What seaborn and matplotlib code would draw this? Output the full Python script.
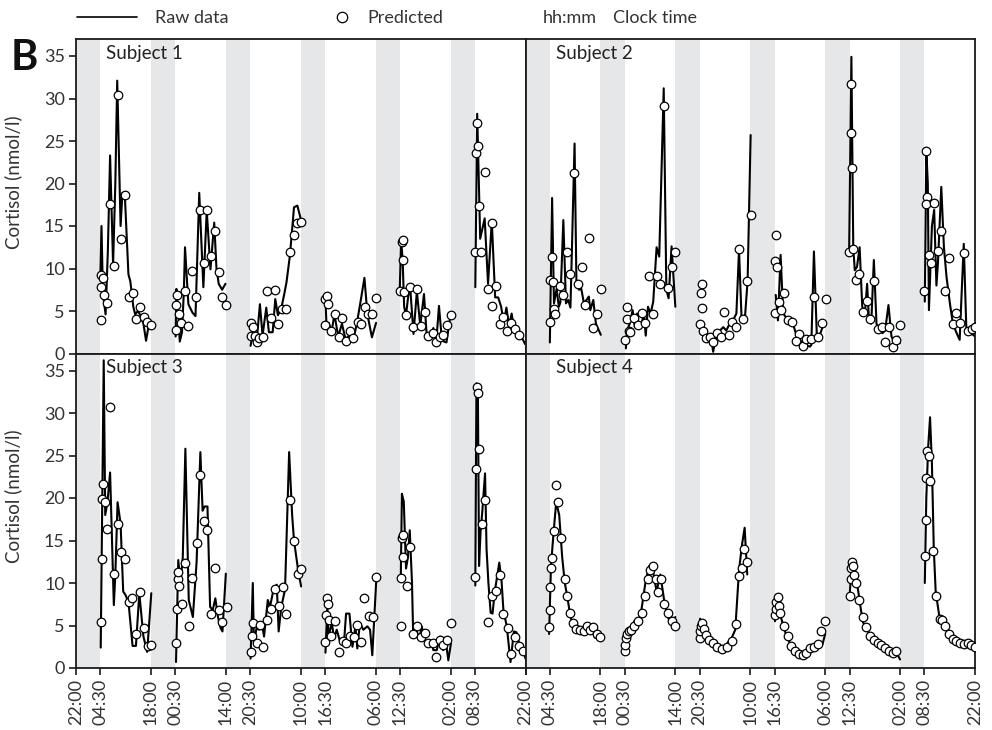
import numpy as np
import pandas as pd
import matplotlib
matplotlib.use("Agg")
import matplotlib.pyplot as plt
from matplotlib.lines import Line2D
import seaborn as sns

sns.set_style("ticks")
plt.rcParams["font.family"] = ["Lato", "DejaVu Sans"]

# ---------------- axis definitions ----------------
tick_pos = [0, 6.5, 20, 26.5, 40, 46.5, 60, 66.5, 80, 86.5, 100, 106.5, 120]
tick_lab = ["22:00", "04:30", "18:00", "00:30", "14:00", "20:30", "10:00",
            "16:30", "06:00", "12:30", "02:00", "08:30", "22:00"]
y_ticks = [0, 5, 10, 15, 20, 25, 30, 35]
sleep_on = [0, 20, 40, 60, 80, 100]
sleep_off = [6.5, 26.5, 46.5, 66.5, 86.5, 106.5]
subjects = ["Subject 1", "Subject 2", "Subject 3", "Subject 4"]

# ---------------- Subject 1 ----------------
s1_raw_t = [6.5, 6.8, 7.2, 7.9, 8.5, 9.1, 9.9, 10.5, 11.0, 11.9, 12.4, 13.1, 14.0, 14.5, 15.3, 15.8, 16.5, 17.2, 18.0, 18.7, 19.6,
            26.6, 26.8, 27.2, 27.7, 28.3, 28.8, 29.1, 30.0, 31.1, 31.9, 32.9, 34.0, 34.9, 35.9, 36.9, 37.5, 38.1, 39.0, 39.9,
            46.6, 47.2, 48.2, 49.1, 49.8, 50.8, 51.5, 52.5, 53.2, 53.9, 54.8, 55.6, 56.2, 57.1, 58.2, 59.1, 59.9,
            66.6, 66.9, 67.5, 68.2, 69.0, 70.0, 71.0, 72.0, 73.0, 74.0, 75.0, 76.0, 77.0, 77.8, 79.0, 80.1,
            86.4, 86.8, 87.2, 87.6, 88.1, 88.7, 89.2, 90.1, 91.0, 91.9, 92.9, 93.6, 94.7, 95.4, 96.1, 96.9, 97.7, 98.9, 99.8,
            106.6, 107.1, 107.5, 107.9, 109.1, 110.0, 111.0, 111.9, 112.7, 113.5, 114.2, 114.9, 115.6, 116.3, 117.1, 117.9, 119.0, 119.9]
s1_raw_v = [9.0, 15.0, 7.0, 4.6, 12.0, 23.3, 10.5, 20.0, 32.1, 15.0, 18.9, 18.0, 9.3, 8.5, 5.5, 4.6, 5.0, 4.5, 3.5, 1.5, 3.8,
            2.0, 7.6, 5.5, 1.4, 2.5, 7.4, 12.5, 5.8, 4.8, 4.4, 18.9, 7.8, 16.8, 9.9, 15.4, 10.0, 8.2, 7.5, 8.2,
            0.9, 2.3, 1.3, 5.8, 2.1, 5.4, 2.5, 2.5, 6.4, 4.5, 5.3, 7.0, 8.4, 11.5, 17.2, 17.4, 16.0,
            6.4, 3.0, 3.6, 2.5, 4.6, 2.0, 3.5, 1.6, 2.2, 1.5, 3.6, 6.2, 8.9, 4.6, 1.9, 3.6,
            7.0, 13.4, 11.0, 5.5, 4.5, 6.8, 7.9, 2.3, 7.3, 3.3, 7.0, 2.3, 2.1, 3.0, 0.9, 5.6, 1.5, 1.3, 4.0,
            7.8, 28.2, 21.0, 13.5, 15.9, 8.2, 15.6, 6.6, 6.6, 5.5, 3.6, 5.4, 3.3, 4.7, 2.6, 3.0, 1.9, 1.1]
s1_pred_t = [6.6, 6.8, 7.2, 6.8, 7.6, 8.2, 9.1, 10.1, 11.1, 12.1, 13.2, 14.1, 15.1, 16.1, 17.1, 18.1, 19.0, 20.0,
             26.6, 26.8, 27.0, 27.5, 28.1, 29.0, 30.0, 31.0, 32.0, 33.0, 34.1, 35.1, 36.0, 37.0, 38.1, 39.1, 40.0,
             46.6, 47.2, 46.6, 47.8, 48.2, 48.9, 50.0, 51.1, 52.0, 53.0, 54.0, 55.1, 56.0, 57.0, 58.2, 59.1, 60.0,
             66.6, 67.1, 67.4, 66.6, 68.1, 69.1, 70.2, 71.1, 72.2, 73.1, 74.0, 75.2, 76.1, 77.1, 78.0, 79.0, 80.1,
             86.5, 87.0, 87.2, 87.4, 87.6, 88.1, 89.2, 90.1, 91.1, 92.1, 93.1, 94.1, 95.2, 96.1, 97.1, 98.0, 99.0, 100.1,
             106.5, 106.8, 107.1, 107.4, 107.5, 108.1, 109.1, 110.1, 111.0, 111.1, 112.1, 113.1, 113.9, 115.0, 116.1, 117.2, 118.2]
s1_pred_v = [3.9, 9.2, 8.9, 7.8, 6.9, 5.9, 17.6, 10.3, 30.4, 13.5, 18.7, 6.7, 7.1, 4.1, 5.5, 4.3, 3.7, 3.3,
             2.8, 5.7, 6.9, 4.7, 3.6, 7.4, 3.2, 9.7, 6.7, 16.9, 10.7, 16.9, 11.5, 14.4, 9.6, 6.7, 5.7,
             3.6, 3.1, 2.1, 2.1, 1.3, 1.8, 1.9, 7.4, 4.2, 7.5, 3.5, 5.2, 5.2, 11.9, 14.0, 15.3, 15.5,
             6.4, 6.8, 5.8, 3.4, 2.6, 4.7, 1.9, 4.2, 1.5, 2.6, 1.8, 3.7, 3.5, 5.5, 4.6, 4.6, 6.5,
             7.3, 13.1, 13.4, 11.0, 7.2, 4.5, 7.8, 3.1, 7.6, 3.2, 4.9, 2.1, 2.4, 1.3, 1.9, 2.2, 3.3, 4.5,
             12.0, 23.6, 27.1, 24.4, 17.3, 12.0, 21.4, 7.6, 15.3, 5.6, 8.0, 3.5, 4.3, 2.7, 3.6, 2.9, 2.2]

# ---------------- Subject 2 ----------------
s2_raw_t = [6.5, 7.1, 7.6, 8.3, 8.9, 9.3, 10.1, 10.8, 11.4, 12.0, 13.1, 13.6, 14.3, 14.9, 15.6, 16.3, 16.9, 17.3, 18.1, 18.8, 20.1,
            26.8, 27.1, 27.8, 28.6, 29.2, 29.8, 30.3, 31.0, 31.6, 32.1, 32.7, 33.4, 34.1, 35.0, 35.7, 36.9, 37.6, 38.2, 39.0, 40.0,
            46.5, 47.4, 48.3, 49.4, 50.1, 51.0, 51.9, 52.8, 53.6, 54.5, 55.4, 56.3, 57.0, 57.7, 58.6, 59.3, 60.1,
            66.8, 67.4, 68.1, 68.8, 69.5, 70.1, 70.7, 71.4, 72.3, 73.2, 74.1, 75.0, 75.9, 76.3, 77.0, 77.8, 78.6, 79.3, 79.9,
            86.4, 87.0, 87.5, 87.9, 88.5, 89.2, 89.9, 90.6, 91.2, 91.7, 92.3, 93.0, 93.7, 94.4, 95.3, 96.0, 96.9, 97.7, 98.6, 99.5, 99.9,
            106.6, 107.0, 107.4, 107.7, 108.5, 109.1, 109.7, 110.1, 111.0, 111.7, 112.4, 113.3, 114.1, 115.0, 115.9, 117.0, 117.7, 118.6, 119.5, 120.0]
s2_raw_v = [1.3, 18.3, 5.9, 7.6, 5.5, 6.0, 15.7, 5.9, 6.3, 5.4, 24.7, 8.2, 7.5, 7.6, 5.9, 6.3, 6.7, 5.1, 6.3, 3.5, 2.2,
            0.6, 2.7, 3.5, 5.1, 3.1, 4.7, 2.9, 3.5, 4.7, 2.1, 5.5, 4.7, 6.1, 12.5, 11.4, 31.2, 7.5, 6.5, 12.6, 5.5,
            3.5, 2.7, 2.0, 2.3, 0.2, 2.2, 2.7, 3.1, 2.7, 3.5, 3.9, 4.7, 12.2, 3.9, 4.3, 8.6, 25.7,
            6.9, 3.9, 11.6, 4.7, 4.3, 3.9, 4.1, 3.5, 2.2, 1.6, 1.2, 1.0, 0.8, 1.0, 12.0, 1.8, 2.2, 3.1, 3.2,
            12.0, 34.9, 12.5, 9.8, 10.2, 12.5, 5.5, 4.7, 8.2, 3.9, 3.5, 11.0, 3.5, 2.7, 2.4, 2.7, 5.7, 2.0, 1.2, 2.0, 1.2,
            6.1, 23.9, 20.0, 5.1, 15.0, 16.9, 8.0, 10.6, 19.6, 12.5, 9.0, 5.9, 3.5, 2.5, 1.6, 12.9, 2.7, 2.4, 2.2, 2.0]
s2_pred_t = [6.5, 7.1, 6.5, 7.3, 7.6, 8.0, 9.1, 10.1, 11.0, 12.0, 13.0, 14.1, 15.0, 16.0, 17.0, 18.0, 19.0, 20.1,
             26.5, 27.0, 27.1, 27.6, 28.0, 29.0, 30.1, 31.0, 32.0, 33.0, 34.1, 35.1, 36.0, 37.1, 38.1, 39.1, 40.0,
             47.0, 46.8, 47.2, 46.5, 47.5, 48.1, 49.2, 50.1, 51.2, 52.1, 53.1, 54.2, 55.1, 56.1, 57.1, 58.1, 59.0, 60.1,
             67.0, 66.7, 67.2, 69.0, 67.6, 66.6, 68.1, 70.1, 71.1, 73.1, 72.1, 74.1, 75.0, 76.1, 77.0, 78.1, 79.1, 80.1,
             87.0, 86.8, 87.2, 86.4, 87.5, 88.1, 89.1, 90.0, 91.1, 92.1, 93.1, 94.1, 95.1, 96.1, 97.1, 98.1, 99.0, 100.1,
             107.0, 107.2, 106.8, 109.1, 106.5, 107.6, 108.2, 110.2, 111.0, 112.0, 113.1, 114.1, 115.0, 116.1, 117.1, 118.1, 119.1, 120.0]
s2_pred_v = [3.7, 11.3, 8.6, 8.4, 5.2, 4.6, 8.0, 6.9, 11.9, 9.4, 21.2, 8.2, 10.2, 5.7, 13.6, 3.0, 4.7, 7.6,
             1.6, 5.5, 4.1, 2.7, 2.5, 4.2, 3.3, 4.8, 3.6, 9.1, 4.7, 9.1, 8.2, 29.1, 7.7, 10.2, 12.0,
             8.2, 7.1, 5.3, 3.5, 2.7, 1.8, 1.9, 1.3, 2.4, 2.0, 4.9, 2.2, 3.7, 3.1, 12.3, 4.1, 8.5, 16.3,
             13.9, 10.9, 10.2, 7.1, 6.1, 4.8, 5.1, 4.0, 3.7, 2.3, 1.5, 0.9, 1.7, 1.7, 6.6, 2.0, 3.6, 6.4,
             31.7, 26.0, 21.8, 12.0, 12.3, 8.7, 9.3, 4.9, 6.2, 4.1, 8.5, 2.9, 3.1, 1.4, 3.1, 0.8, 1.6, 3.3,
             23.8, 18.4, 17.6, 17.7, 7.3, 11.6, 10.6, 12.1, 14.4, 7.3, 11.2, 3.5, 4.8, 3.6, 11.8, 2.7, 2.9, 3.1]

# ---------------- Subject 3 ----------------
s3_raw_t = [6.6, 7.4, 7.8, 8.4, 9.1, 10.1, 10.5, 11.1, 11.9, 12.6, 13.2, 14.0, 15.1, 16.0, 16.9, 18.0, 19.0, 20.1,
            26.7, 27.3, 27.9, 28.5, 29.2, 30.1, 31.2, 32.2, 33.2, 33.8, 34.3, 35.1, 35.8, 36.5, 37.2, 37.9, 38.6, 39.1, 40.0,
            46.6, 47.2, 47.5, 48.2, 48.9, 49.6, 50.2, 51.2, 51.8, 52.8, 53.6, 54.1, 54.8, 55.8, 56.9, 57.7, 58.2, 59.3, 60.1,
            66.6, 67.1, 67.4, 68.3, 68.9, 69.6, 70.5, 71.5, 72.1, 73.0, 73.8, 74.6, 75.1, 75.8, 76.7, 77.8, 78.5, 79.1, 80.2,
            86.7, 87.0, 87.5, 88.1, 88.6, 89.1, 89.7, 90.0, 90.9, 91.6, 92.3, 93.1, 93.8, 94.7, 95.4, 96.3, 97.2, 98.0, 98.8, 99.4, 100.1,
            106.6, 106.9, 107.3, 107.6, 108.0, 108.5, 109.2, 109.6, 110.1, 110.7, 111.2, 111.8, 113.0, 113.6, 114.1, 115.0, 116.0, 116.9, 117.6, 118.5, 119.4, 120.0]
s3_raw_v = [2.4, 36.2, 18.0, 19.5, 23.0, 7.4, 11.0, 19.5, 17.0, 9.0, 8.6, 7.8, 2.6, 2.6, 8.8, 3.7, 1.9, 8.8,
            0.7, 12.7, 10.0, 13.0, 25.8, 8.0, 6.0, 12.5, 25.4, 18.5, 19.0, 19.0, 7.2, 6.8, 8.2, 6.0, 4.7, 4.3, 11.1,
            1.1, 10.0, 2.9, 4.7, 4.5, 5.3, 3.7, 8.0, 7.2, 9.4, 9.8, 4.3, 7.2, 9.2, 25.4, 18.0, 15.0, 11.5, 9.6,
            1.8, 7.5, 3.7, 5.3, 3.5, 4.5, 3.1, 2.7, 6.4, 6.4, 2.5, 4.9, 2.3, 5.3, 4.5, 4.9, 4.5, 1.5, 10.7,
            10.4, 20.5, 19.6, 11.7, 13.0, 16.2, 10.0, 4.1, 4.5, 3.3, 4.9, 3.3, 2.5, 3.3, 2.1, 2.1, 3.7, 2.1, 2.9, 0.9, 2.9,
            9.7, 33.5, 31.9, 12.0, 16.0, 18.6, 22.9, 14.0, 10.0, 6.5, 6.4, 9.0, 12.4, 10.3, 6.8, 4.9, 0.7, 4.3, 4.2, 2.5, 2.1, 1.1]
s3_pred_t = [6.6, 6.9, 7.3, 7.0, 7.7, 8.2, 9.1, 10.1, 11.1, 12.1, 13.2, 14.1, 15.0, 16.1, 17.1, 18.1, 19.1, 20.1,
             26.7, 26.9, 27.1, 27.3, 27.6, 28.2, 29.2, 30.1, 31.1, 32.2, 33.2, 34.1, 35.1, 36.1, 37.2, 38.2, 39.1, 40.2,
             46.6, 47.0, 47.2, 48.2, 49.1, 50.0, 51.1, 52.1, 53.1, 54.1, 55.2, 56.1, 57.1, 58.2, 59.2, 60.2,
             67.0, 67.3, 66.8, 67.5, 66.5, 68.1, 69.1, 70.1, 71.2, 72.2, 73.1, 74.1, 75.1, 76.2, 77.0, 78.1, 79.2, 80.2,
             87.0, 87.3, 87.4, 86.8, 88.3, 86.7, 89.1, 90.0, 91.1, 92.1, 93.2, 94.1, 95.2, 96.1, 97.2, 98.0, 99.1, 100.1,
             107.1, 107.4, 107.7, 106.8, 109.2, 108.3, 106.6, 110.0, 111.0, 112.1, 113.2, 114.1, 115.2, 116.1, 117.1, 118.2, 119.2]
s3_pred_v = [5.4, 12.8, 21.6, 19.9, 19.5, 16.3, 30.7, 11.1, 16.9, 13.6, 12.8, 7.8, 8.2, 4.0, 8.9, 4.7, 2.6, 2.7,
             2.9, 6.9, 10.5, 11.3, 9.7, 7.5, 12.4, 4.9, 10.6, 14.7, 22.7, 17.3, 16.2, 6.4, 11.8, 6.8, 5.4, 7.2,
             1.9, 3.8, 5.3, 3.0, 5.1, 2.5, 5.7, 6.9, 9.3, 7.3, 9.5, 6.4, 19.8, 15.0, 11.1, 11.6,
             8.2, 7.5, 6.2, 5.7, 3.1, 3.8, 5.5, 1.9, 3.2, 2.9, 3.8, 3.6, 5.1, 3.1, 8.2, 6.1, 6.0, 10.7,
             15.3, 15.6, 13.1, 10.6, 9.7, 4.9, 14.2, 4.0, 4.9, 3.6, 4.1, 2.9, 2.9, 1.3, 3.3, 2.7, 3.3, 5.3,
             33.1, 32.4, 25.8, 23.4, 19.8, 16.9, 10.7, 5.4, 8.5, 9.1, 10.9, 6.4, 4.7, 1.6, 3.7, 2.6, 2.0]

# ---------------- Subject 4 ----------------
s4_raw_t = [6.3, 6.8, 7.5, 8.2, 9.0, 9.8, 10.5, 11.3, 12.0, 12.8, 13.6, 14.5, 15.5, 16.5, 17.5, 18.5, 19.8,
            26.5, 27.0, 28.0, 29.0, 30.0, 31.0, 32.0, 33.0, 34.0, 35.0, 36.0, 37.0, 38.0, 39.0, 40.0,
            46.6, 47.2, 48.0, 49.0, 50.0, 51.0, 52.0, 53.0, 54.0, 55.0, 56.0, 57.0, 57.8, 58.5, 59.2,
            66.6, 67.0, 67.5, 68.5, 69.5, 70.5, 71.5, 72.5, 73.5, 74.5, 75.5, 76.5, 77.5, 78.5, 79.3, 80.0,
            86.6, 87.0, 87.5, 88.0, 89.0, 90.0, 91.0, 92.0, 93.0, 94.0, 95.0, 96.0, 97.0, 98.0, 99.0, 100.0,
            106.6, 107.0, 107.5, 108.0, 108.5, 109.0, 109.5, 110.5, 111.5, 112.5, 113.5, 114.5, 115.5, 116.5, 117.5, 118.5, 119.5, 120.0]
s4_raw_v = [4.0, 12.0, 16.0, 19.5, 18.0, 13.0, 10.0, 8.0, 6.0, 5.0, 4.5, 4.0, 4.5, 4.0, 4.8, 3.6, 3.3,
            2.5, 4.5, 4.0, 5.5, 5.0, 7.0, 10.0, 12.0, 11.5, 9.0, 11.0, 8.0, 6.0, 5.0, 6.0,
            5.8, 4.5, 3.5, 3.5, 2.6, 2.3, 2.0, 2.2, 3.0, 3.5, 4.5, 11.5, 14.5, 16.5, 11.0,
            5.5, 8.5, 7.0, 5.5, 4.0, 3.0, 2.0, 1.5, 1.3, 1.5, 2.0, 2.5, 2.5, 3.0, 2.8, 4.0,
            9.0, 11.5, 11.0, 11.5, 8.5, 5.5, 4.5, 4.0, 3.2, 3.0, 2.5, 2.0, 1.8, 1.5, 1.8, 1.0,
            10.0, 20.0, 26.0, 29.5, 24.0, 14.0, 9.0, 6.0, 5.5, 4.5, 3.5, 3.2, 3.0, 2.8, 2.5, 2.8, 2.3, 2.0]
s4_pred_t = [6.4, 6.5, 6.6, 6.8, 7.0, 7.5, 8.2, 8.8, 9.5, 10.5, 11.2, 12.0, 12.8, 13.6, 14.5, 15.5, 16.5, 17.3, 18.0, 19.0, 19.8,
             26.5, 26.6, 26.8, 27.0, 27.5, 28.2, 29.0, 30.0, 31.0, 32.0, 32.8, 33.3, 34.0, 34.8, 35.5, 36.3, 37.0, 38.0, 39.0, 40.0,
             46.6, 46.7, 46.9, 47.2, 47.6, 48.2, 49.0, 50.0, 51.0, 52.4, 53.7, 55.1, 56.2, 57.0, 57.7, 58.3, 59.0,
             66.6, 66.8, 67.0, 67.3, 67.6, 68.0, 69.0, 70.0, 71.0, 72.0, 73.0, 74.0, 75.0, 76.0, 77.0, 78.0, 79.0, 80.0,
             86.6, 86.8, 87.0, 87.2, 87.5, 87.8, 88.3, 89.0, 90.0, 91.0, 92.0, 93.0, 94.0, 95.0, 96.0, 97.0, 98.0, 99.0,
             106.6, 106.8, 107.0, 107.3, 107.6, 108.0, 108.8, 109.7, 110.7, 111.3, 112.0, 113.0, 114.0, 115.0, 116.0, 117.0, 118.0, 119.0, 120.0]
s4_pred_v = [4.8, 6.8, 9.5, 11.8, 13.0, 16.1, 21.5, 19.5, 15.3, 10.5, 8.5, 6.5, 5.3, 4.6, 4.5, 4.3, 5.0, 4.5, 4.8, 4.0, 3.6,
             2.0, 2.7, 3.5, 4.0, 4.3, 4.5, 5.0, 5.5, 6.5, 8.5, 10.5, 11.5, 12.0, 10.5, 9.0, 10.5, 7.5, 6.5, 5.5, 5.0,
             3.5, 4.3, 5.0, 5.3, 4.6, 3.9, 3.3, 2.9, 2.5, 2.2, 2.5, 3.2, 5.2, 10.8, 11.8, 14.0, 12.5,
             6.2, 7.0, 7.8, 8.3, 7.3, 6.5, 5.0, 3.8, 2.6, 2.0, 1.6, 1.5, 1.8, 2.3, 2.5, 2.8, 4.3, 5.5,
             8.5, 10.5, 11.8, 12.5, 12.0, 11.0, 10.0, 8.0, 6.0, 4.8, 3.8, 3.3, 3.0, 2.7, 2.3, 2.0, 1.8, 2.0,
             13.2, 17.4, 22.3, 25.5, 25.0, 22.0, 13.8, 8.5, 5.8, 5.7, 5.0, 4.0, 3.4, 3.2, 3.0, 2.8, 3.0, 2.7, 2.5]

raw_t = [s1_raw_t, s2_raw_t, s3_raw_t, s4_raw_t]
raw_v = [s1_raw_v, s2_raw_v, s3_raw_v, s4_raw_v]
pred_t = [s1_pred_t, s2_pred_t, s3_pred_t, s4_pred_t]
pred_v = [s1_pred_v, s2_pred_v, s3_pred_v, s4_pred_v]


def frame(t, v):
    df = pd.DataFrame({"t": t, "v": v})
    df["seg"] = ((df["t"] - 3) // 20).astype(int)
    return df


W, H = 992, 730
fig, axes = plt.subplots(2, 2, figsize=(W / 100, H / 100), dpi=100)
fig.subplots_adjust(left=76 / W, right=975 / W, top=1 - 39 / H, bottom=1 - 668 / H,
                    wspace=0, hspace=0)

txt = "#333333"
for i, ax in enumerate(axes.flat):
    for a, b in zip(sleep_on, sleep_off):
        ax.axvspan(a, b, color="#e6e7e9", lw=0, zorder=0)
    raw = frame(raw_t[i], raw_v[i])
    pred = frame(pred_t[i], pred_v[i])
    sns.lineplot(data=raw, x="t", y="v", units="seg", estimator=None, sort=False,
                 color="black", lw=1.5, ax=ax, legend=False, zorder=2)
    sns.scatterplot(data=pred, x="t", y="v", ax=ax, s=38, color="white",
                    edgecolor="black", linewidth=0.9, zorder=3, legend=False)
    ax.set_xlim(0, 120)
    ax.set_ylim(0, 37)
    ax.set_yticks(y_ticks)
    ax.set_xlabel("")
    ax.set_ylabel("")
    for sp in ax.spines.values():
        sp.set_visible(True)
        sp.set_linewidth(1.3)
        sp.set_color("#1a1a1a")
    ax.text(0.067, 0.955, subjects[i], transform=ax.transAxes, fontsize=13.5,
            color="#222222", va="center", ha="left")
    ax.tick_params(axis="both", direction="out", length=5, width=1.2,
                   labelsize=13, colors="#1a1a1a", labelcolor=txt, pad=3)

axes[1, 0].set_xticks(tick_pos, tick_lab, rotation=90)
# the shared 22:00 at the panel join is labelled once (by the left panel)
axes[1, 1].set_xticks(tick_pos, [""] + tick_lab[1:], rotation=90)

for ax in axes[0, :]:
    ax.set_xticks(tick_pos)
    ax.tick_params(axis="x", bottom=False, labelbottom=False)
for ax in axes[:, 1]:
    ax.tick_params(axis="y", left=False, labelleft=False)
for ax in axes[:, 0]:
    ax.set_ylabel("Cortisol (nmol/l)", fontsize=13.5, color=txt)
    ax.yaxis.set_label_coords(-0.12, 0.545)

# legend row
leg1 = fig.legend(handles=[Line2D([], [], color="black", lw=1.2)], labels=["Raw data"],
                  loc="center left", bbox_to_anchor=(77 / W, 1 - 18 / H), frameon=False,
                  handlelength=3.3, handletextpad=1.0, borderpad=0, borderaxespad=0,
                  fontsize=13, labelcolor=txt)
leg2 = fig.legend(handles=[Line2D([], [], ls="none", marker="o", mfc="white", mec="black",
                                  ms=7.5, mew=0.9)],
                  labels=["Predicted"], loc="center left", bbox_to_anchor=(333 / W, 1 - 18 / H),
                  frameon=False, handlelength=1.0, handletextpad=0.9, borderpad=0,
                  borderaxespad=0, fontsize=13, labelcolor=txt)
fig.text(543 / W, 1 - 18 / H, "hh:mm", fontsize=13, color=txt, va="center", ha="left")
fig.text(613 / W, 1 - 18 / H, "Clock time", fontsize=13, color=txt, va="center", ha="left")
fig.text(11 / W, 1 - 58 / H, "B", fontsize=30, fontweight="bold", color="#111111",
         va="center", ha="left")

fig.savefig("out.png", dpi=100)
